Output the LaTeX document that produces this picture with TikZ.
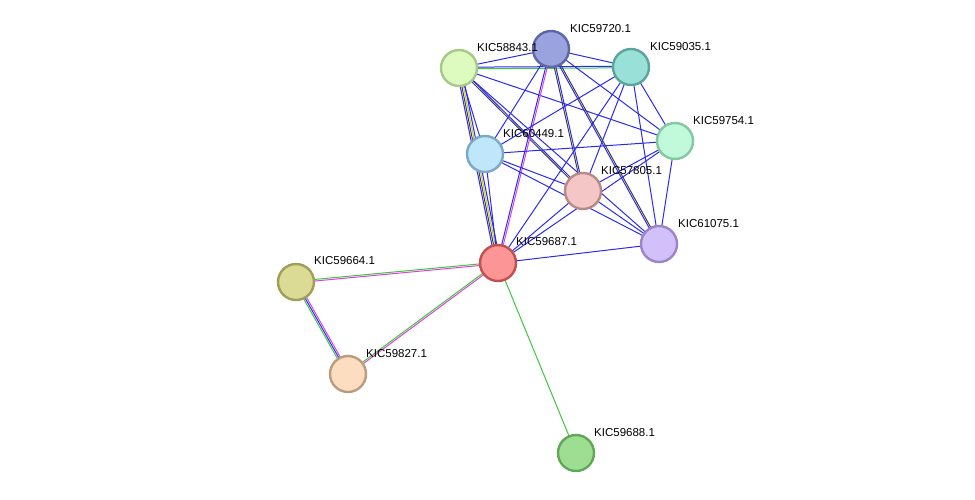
\documentclass[tikz,border=0pt]{standalone}
\usepackage{fontspec}
\setmainfont{Liberation Sans}
\usetikzlibrary{calc,backgrounds}

\definecolor{eblue}{HTML}{2A2AF0}
\definecolor{egreen}{HTML}{3CC83C}
\definecolor{epink}{HTML}{E040E0}
\definecolor{eblack}{HTML}{404040}
\definecolor{eyellow}{HTML}{C8C820}

\tikzset{
  prot/.style={circle, minimum size=36pt, inner sep=0pt, line width=2.4pt},
  plabel/.style={anchor=base west, inner sep=0pt, font=\fontsize{11.5}{13}\selectfont},
  link/.style={line width=1pt}
}

% parallel coloured links between two nodes
\newcommand{\plink}[3]{%
  \foreach \c [count=\i] in {#3} {\xdef\nl{\i}}%
  \foreach \c [count=\i] in {#3} {%
    \pgfmathsetmacro{\off}{(\i-(\nl+1)/2)*1.6}%
    \draw[link, color=\c] ($(#1.center)!\off pt!90:(#2.center)$) -- ($(#2.center)!\off pt!-90:(#1.center)$);
  }%
}

\begin{document}
\begin{tikzpicture}[x=1pt, y=-1pt]
\useasboundingbox (0,0) rectangle (975,499);

\node (n59720) [prot, fill={rgb,255:red,154;green,163;blue,221}, draw={rgb,255:red,92;green,103;blue,168}] at (551,49) {};
\node (n58843) [prot, fill={rgb,255:red,221;green,251;blue,191}, draw={rgb,255:red,166;green,201;blue,138}] at (459,68) {};
\node (n59035) [prot, fill={rgb,255:red,153;green,224;blue,216}, draw={rgb,255:red,91;green,165;blue,155}] at (631,67) {};
\node (n59754) [prot, fill={rgb,255:red,192;green,250;blue,219}, draw={rgb,255:red,132;green,200;blue,160}] at (675,141) {};
\node (n60449) [prot, fill={rgb,255:red,192;green,230;blue,252}, draw={rgb,255:red,124;green,169;blue,196}] at (485,154) {};
\node (n57805) [prot, fill={rgb,255:red,245;green,198;blue,198}, draw={rgb,255:red,184;green,137;blue,137}] at (583,191) {};
\node (n61075) [prot, fill={rgb,255:red,210;green,192;blue,250}, draw={rgb,255:red,154;green,133;blue,200}] at (659,244) {};
\node (n59687) [prot, fill={rgb,255:red,252;green,150;blue,150}, draw={rgb,255:red,192;green,80;blue,80}] at (498,263) {};
\node (n59664) [prot, fill={rgb,255:red,220;green,219;blue,149}, draw={rgb,255:red,160;green,159;blue,90}] at (296,282) {};
\node (n59827) [prot, fill={rgb,255:red,253;green,221;blue,191}, draw={rgb,255:red,188;green,156;blue,126}] at (348,374) {};
\node (n59688) [prot, fill={rgb,255:red,158;green,222;blue,147}, draw={rgb,255:red,98;green,167;blue,87}] at (576,453) {};

\node (l59720) [plabel] at (570,32) {KIC59720.1};
\node (l58843) [plabel] at (477,51) {KIC58843.1};
\node (l59035) [plabel] at (650,50) {KIC59035.1};
\node (l59754) [plabel] at (693,124) {KIC59754.1};
\node (l60449) [plabel] at (503,137) {KIC60449.1};
\node (l57805) [plabel] at (601,174) {KIC57805.1};
\node (l61075) [plabel] at (678,227) {KIC61075.1};
\node (l59687) [plabel] at (516,245) {KIC59687.1};
\node (l59664) [plabel] at (314,264) {KIC59664.1};
\node (l59827) [plabel] at (366,357) {KIC59827.1};
\node (l59688) [plabel] at (594,436) {KIC59688.1};

\begin{scope}[on background layer]
\plink{n58843}{n59035}{egreen,eblue}
\plink{n58843}{n59720}{eblue}
\plink{n59720}{n59035}{eblue}
\plink{n58843}{n60449}{eblue}
\plink{n58843}{n59687}{eblue,eblack,eyellow,eblue}
\plink{n58843}{n57805}{eblack,eblue}
\plink{n58843}{n61075}{eblue}
\plink{n58843}{n59754}{eblue}
\plink{n59720}{n60449}{eblue}
\plink{n59720}{n59687}{eblue,epink}
\plink{n59720}{n57805}{eblack,eblue}
\plink{n59720}{n61075}{eblue,eblack}
\plink{n59720}{n59754}{eblue}
\plink{n59035}{n60449}{eblue}
\plink{n59035}{n57805}{eblue}
\plink{n59035}{n59687}{eblue}
\plink{n59035}{n59754}{eblue}
\plink{n59035}{n61075}{eblue}
\plink{n60449}{n59754}{eblue}
\plink{n60449}{n57805}{eblue}
\plink{n60449}{n61075}{eblue}
\plink{n60449}{n59687}{eblue}
\plink{n57805}{n59754}{eblue}
\plink{n57805}{n61075}{eblue}
\plink{n57805}{n59687}{eblue}
\plink{n59754}{n61075}{eblue}
\plink{n59754}{n59687}{eblue}
\plink{n61075}{n59687}{eblue}
\plink{n59687}{n59664}{egreen,epink}
\plink{n59687}{n59827}{egreen,epink}
\plink{n59687}{n59688}{egreen}
\plink{n59664}{n59827}{egreen,eblue,epink}
\end{scope}
\end{tikzpicture}
\end{document}
